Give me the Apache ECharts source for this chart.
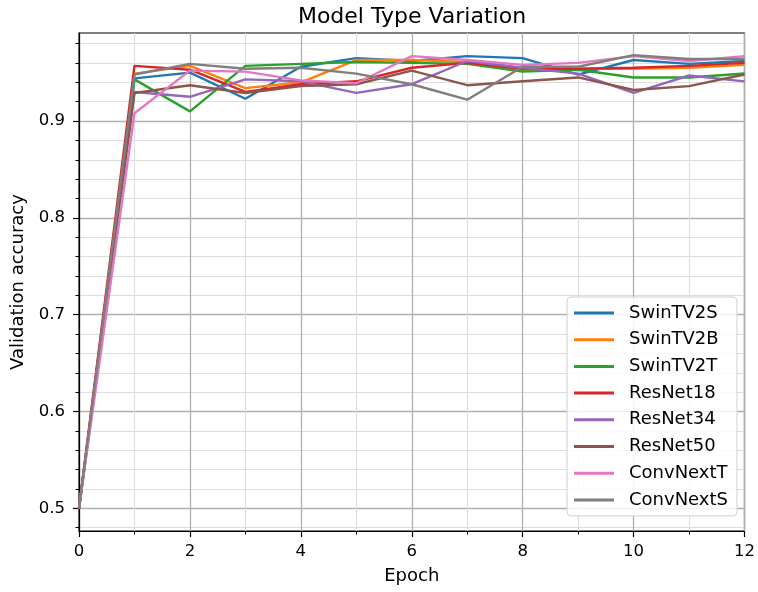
<!DOCTYPE html>
<html>
<head>
<meta charset="utf-8">
<script src="https://cdn.jsdelivr.net/npm/echarts@6/dist/echarts.min.js"></script>
<style>html,body{margin:0;padding:0;background:#fff}#c{width:758px;height:592px}</style>
</head>
<body>
<div id="c"></div>
<script>
const epochs = [0,1,2,3,4,5,6,7,8,9,10,11,12];
const seriesNames = ['SwinTV2S','SwinTV2B','SwinTV2T','ResNet18','ResNet34','ResNet50','ConvNextT','ConvNextS'];
const SwinTV2S  = [0.5,0.944,0.950,0.923,0.956,0.965,0.962,0.967,0.965,0.948,0.963,0.959,0.962];
const SwinTV2B  = [0.5,0.949,0.957,0.934,0.940,0.963,0.963,0.961,0.953,0.954,0.954,0.955,0.958];
const SwinTV2T  = [0.5,0.943,0.910,0.957,0.959,0.961,0.960,0.959,0.951,0.953,0.945,0.945,0.949];
const ResNet18  = [0.5,0.957,0.953,0.930,0.938,0.941,0.955,0.960,0.954,0.954,0.955,0.957,0.960];
const ResNet34  = [0.5,0.930,0.925,0.943,0.941,0.929,0.938,0.962,0.955,0.949,0.929,0.947,0.941];
const ResNet50  = [0.5,0.929,0.937,0.929,0.936,0.938,0.952,0.937,0.941,0.945,0.932,0.936,0.948];
const ConvNextT = [0.5,0.908,0.952,0.951,0.942,0.939,0.967,0.963,0.958,0.960,0.967,0.962,0.967];
const ConvNextS = [0.5,0.948,0.959,0.954,0.955,0.949,0.938,0.922,0.956,0.956,0.968,0.964,0.964];
const yMajorTicks = [0.5,0.6,0.7,0.8,0.9];
const yMinorTicks = [0.48,0.52,0.54,0.56,0.58,0.62,0.64,0.66,0.68,0.72,0.74,0.76,0.78,0.82,0.84,0.86,0.88,0.92,0.94,0.96,0.98];
const colors = ['#1f77b4','#ff7f0e','#2ca02c','#d62728','#9467bd','#8c564b','#e377c2','#7f7f7f'];
const allData = [SwinTV2S,SwinTV2B,SwinTV2T,ResNet18,ResNet34,ResNet50,ConvNextT,ConvNextS];

const FONT = 'DejaVu Sans';
const chart = echarts.init(document.getElementById('c'), null, {renderer:'canvas'});
const yMin = 0.4766, yMax = 0.9909;
chart.setOption({
  animation: false,
  backgroundColor: '#fff',
  color: colors,
  textStyle: {fontFamily: FONT},
  graphic: [{
    type: 'text', x: 412, y: 17, z: 100,
    style: {text: 'Model Type Variation', fontSize: 22, fontFamily: FONT, fill: '#000', align: 'center', verticalAlign: 'middle'}
  }],
  grid: {left: 79, right: 12, top: 33, bottom: 61, show: true, borderColor: '#000', borderWidth: 1.2, backgroundColor: '#fff', containLabel: false},
  xAxis: {
    type: 'value', min: 0, max: 12, interval: 2,
    name: 'Epoch', nameLocation: 'middle', nameGap: 36,
    nameTextStyle: {fontSize: 18, color: '#000', fontFamily: FONT},
    axisLine: {show: true, onZero: false, lineStyle: {color: '#000', width: 1.2}},
    axisTick: {show: true, length: 6, lineStyle: {color: '#000', width: 1.2}},
    minorTick: {show: true, splitNumber: 2, length: 3.5, lineStyle: {color: '#000', width: 1}},
    axisLabel: {fontSize: 16.5, color: '#000', margin: 12, fontFamily: FONT},
    splitLine: {show: true, lineStyle: {color: '#b0b0b0', width: 1.3}},
    minorSplitLine: {show: true, lineStyle: {color: '#dedede', width: 1.1}}
  },
  yAxis: [{
    type: 'value', min: yMin, max: yMax, position: 'left',
    axisLine: {show: false},
    axisTick: {show: true, length: 3.5, customValues: yMinorTicks, lineStyle: {color: '#000', width: 1}},
    axisLabel: {show: false},
    splitLine: {show: true, lineStyle: {color: '#dedede', width: 1.1}}
  }, {
    type: 'value', min: yMin, max: yMax, position: 'left',
    name: 'Validation accuracy', nameLocation: 'middle', nameGap: 52,
    nameTextStyle: {fontSize: 18, color: '#000', fontFamily: FONT},
    axisLine: {show: true, onZero: false, lineStyle: {color: '#000', width: 1.2}},
    axisTick: {show: true, length: 6, customValues: yMajorTicks, lineStyle: {color: '#000', width: 1.2}},
    axisLabel: {fontSize: 16.5, color: '#000', margin: 14, customValues: yMajorTicks, fontFamily: FONT, formatter: v => String(Math.round(v*10)/10)},
    splitLine: {show: true, lineStyle: {color: '#b0b0b0', width: 1.3}}
  }],
  legend: {
    orient: 'vertical', left: 567, top: 297,
    backgroundColor: 'rgba(255,255,255,0.85)', borderColor: '#d0d0d0', borderWidth: 1, borderRadius: 4,
    padding: [7, 9, 7, 7],
    itemWidth: 40, itemHeight: 3, itemGap: 8.7, icon: 'rect',
    textStyle: {fontSize: 18, color: '#000', fontFamily: FONT, lineHeight: 18, padding: [0,0,0,10]},
    data: seriesNames
  },
  series: seriesNames.map((n, i) => ({
    name: n, type: 'line', yAxisIndex: 1,
    data: epochs.map((e, k) => [e, allData[i][k]]),
    showSymbol: false, symbol: 'none',
    lineStyle: {width: 2.4, color: colors[i]},
    itemStyle: {color: colors[i]},
    z: 3 + i
  }))
});
</script>
</body>
</html>
